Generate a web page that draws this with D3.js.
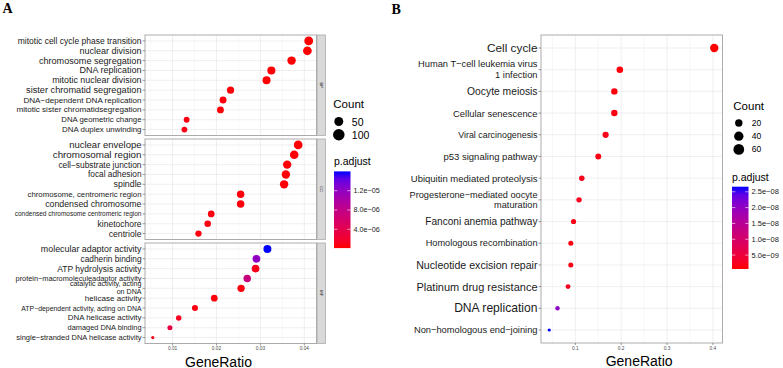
<!DOCTYPE html>
<html>
<head>
<meta charset="utf-8">
<script src="https://cdn.jsdelivr.net/npm/d3@7"></script>
<style>
  body { margin: 0; background: #fff; }
  svg { font-family: "Liberation Sans", Arial, sans-serif; }
</style>
</head>
<body>
<svg width="783" height="368"></svg>
<script>
// ---- data: panel A (GO, facets BP / CC / MF) ----
var bpTerms = ["mitotic cell cycle phase transition", "nuclear division", "chromosome segregation",
  "DNA replication", "mitotic nuclear division", "sister chromatid segregation",
  "DNA−dependent DNA replication", "mitotic sister chromatidsegregation", "DNA geometric change",
  "DNA duplex unwinding"];
var bpRatio = [0.0410, 0.0407, 0.0371, 0.0325, 0.0314, 0.0232, 0.0215, 0.0209, 0.0132, 0.0127];
var bpCount = [109, 108, 98, 86, 83, 61, 57, 55, 35, 34];
var bpPadj  = [1e-7, 1e-7, 1.5e-7, 2e-7, 2e-7, 3e-7, 4e-7, 3e-7, 6e-7, 7e-7];

var ccTerms = ["nuclear envelope", "chromosomal region", "cell−substrate junction", "focal adhesion",
  "spindle", "chromosome, centromeric region", "condensed chromosome",
  "condensed chromosome centromeric region", "kinetochore", "centriole"];
var ccRatio = [0.0386, 0.0377, 0.0361, 0.0358, 0.0354, 0.0255, 0.0255, 0.0188, 0.0180, 0.0159];
var ccCount = [104, 102, 97, 96, 95, 69, 69, 51, 49, 43];
var ccPadj  = [2e-7, 2e-7, 3e-7, 3e-7, 3e-7, 4e-7, 4e-7, 5e-7, 5e-7, 6e-7];

var mfTerms = ["molecular adaptor activity", "cadherin binding", "ATP hydrolysis activity",
  "protein−macromoleculeadaptor activity", "catalytic activity, acting\non DNA", "helicase activity",
  "ATP−dependent activity, acting on DNA", "DNA helicase activity", "damaged DNA binding",
  "single−stranded DNA helicase activity"];
var mfRatio = [0.0316, 0.0291, 0.0289, 0.0270, 0.0256, 0.0195, 0.0151, 0.0114, 0.0094, 0.0055];
var mfCount = [82, 76, 75, 70, 67, 51, 39, 30, 24, 14];
var mfPadj  = [1.6e-5, 1.2e-5, 8e-7, 7.3e-6, 5e-7, 4e-7, 6e-7, 1.2e-6, 3.4e-6, 9e-7];

var xTicksA = [0.01, 0.02, 0.03, 0.04];
var countBreaksA = [50, 100];
var padjTicksA = [4e-6, 8e-6, 1.2e-5];

// ---- data: panel B (KEGG) ----
var keggTerms = ["Cell cycle", "Human T−cell leukemia virus\n1 infection", "Oocyte meiosis",
  "Cellular senescence", "Viral carcinogenesis", "p53 signaling pathway",
  "Ubiquitin mediated proteolysis", "Progesterone−mediated oocyte\nmaturation",
  "Fanconi anemia pathway", "Homologous recombination", "Nucleotide excision repair",
  "Platinum drug resistance", "DNA replication", "Non−homologous end−joining"];
var keggRatio = [0.403, 0.197, 0.185, 0.185, 0.166, 0.150, 0.114, 0.108, 0.096, 0.090, 0.090, 0.084, 0.061, 0.043];
var keggCount = [63, 31, 29, 29, 26, 23, 18, 17, 15, 14, 14, 13, 10, 7];
var keggPadj  = [6e-10, 1e-9, 1.2e-9, 1.5e-9, 1.8e-9, 1.6e-9, 2e-9, 2.2e-9, 1.5e-9, 1.4e-9, 1.5e-9, 2.5e-9, 2.05e-8, 2.66e-8];

var xTicksB = [0.1, 0.2, 0.3, 0.4];
var countBreaksB = [20, 40, 60];
var padjTicksB = [5e-9, 1e-8, 1.5e-8, 2e-8, 2.5e-8];

// label font sizes (style only)
var bpFont = [8.5, 9, 9.1, 9, 8.9, 9.2, 8.1, 8.1, 7.8, 7.9];
var ccFont = [9.5, 9.8, 8.4, 8.3, 8.8, 7.8, 8.8, 6.5, 8.5, 8.7];
var mfFont = [8.9, 8.3, 8.5, 7.35, 7.1, 8.1, 6.9, 7.9, 7.4, 7.5];
var keggFont = [11.8, 9.3, 10.3, 9.4, 8.9, 9.5, 9.5, 9.2, 10.1, 9.2, 10.6, 11, 12.1, 9.3];

var svg = d3.select("svg");
svg.append("rect").attr("width", 783).attr("height", 368).attr("fill", "#fff");

function sciFmt(v) {
  var e = Math.floor(Math.log10(v) + 1e-9);
  var m = v / Math.pow(10, e);
  var s = e < 0 ? "−" : "+";
  return m.toFixed(1) + "e" + s + String(Math.abs(e)).padStart(2, "0");
}

function colorScale(vals) {
  return d3.scaleLinear().domain(d3.extent(vals)).range(["#FF0000", "#0000FF"]).interpolate(d3.interpolateLab);
}

function radiusScale(vals, rmin, rmax) {
  var n = d3.scaleLinear().domain(d3.extent(vals)).range([0, 1]);
  return function(c) { return rmin + (rmax - rmin) * Math.sqrt(Math.max(0, n(c))); };
}

// one dot panel
function drawPanel(terms, ratio, count, padj, fonts, x, xTicks, top, bottom, r, color) {
  var y = d3.scalePoint().domain(d3.range(terms.length)).range([top, bottom]).padding(0.6);
  var x0 = x.range()[0], x1 = x.range()[1];
  var g = svg.append("g");

  // minor vertical grid
  var minor = [];
  for (var i = 0; i < xTicks.length; i++) {
    var step = xTicks[1] - xTicks[0];
    minor.push(xTicks[i] - step / 2);
    if (i == xTicks.length - 1) minor.push(xTicks[i] + step / 2);
  }
  g.selectAll(".gmin").data(minor.filter(function(v){ return x(v) > x0 && x(v) < x1; }))
    .enter().append("line")
    .attr("x1", function(d){ return x(d); }).attr("x2", function(d){ return x(d); })
    .attr("y1", top).attr("y2", bottom)
    .attr("stroke", "#F3F3F3").attr("stroke-width", 0.6);
  g.selectAll(".gmaj").data(xTicks).enter().append("line")
    .attr("x1", function(d){ return x(d); }).attr("x2", function(d){ return x(d); })
    .attr("y1", top).attr("y2", bottom)
    .attr("stroke", "#EBEBEB").attr("stroke-width", 0.8);
  g.selectAll(".gh").data(d3.range(terms.length)).enter().append("line")
    .attr("x1", x0).attr("x2", x1)
    .attr("y1", function(d){ return y(d); }).attr("y2", function(d){ return y(d); })
    .attr("stroke", "#EBEBEB").attr("stroke-width", 0.8);

  // dots
  g.selectAll("circle").data(d3.range(terms.length)).enter().append("circle")
    .attr("cx", function(i){ return x(ratio[i]); })
    .attr("cy", function(i){ return y(i); })
    .attr("r", function(i){ return r(count[i]); })
    .attr("fill", function(i){ return color(padj[i]); });

  g.append("rect").attr("x", x0).attr("y", top).attr("width", x1 - x0).attr("height", bottom - top)
    .attr("fill", "none").attr("stroke", "#ABABAB").attr("stroke-width", 1);

  // y ticks + labels
  g.selectAll(".yt").data(d3.range(terms.length)).enter().append("line")
    .attr("x1", x0 - 2.5).attr("x2", x0)
    .attr("y1", function(d){ return y(d); }).attr("y2", function(d){ return y(d); })
    .attr("stroke", "#555").attr("stroke-width", 0.6);
  terms.forEach(function(t, i) {
    var lines = t.split("\n");
    var fs = fonts[i], lh = fs * 1.12;
    var txt = g.append("text").attr("text-anchor", "end")
      .attr("font-size", fs).attr("fill", "#1a1a1a");
    lines.forEach(function(l, k) {
      txt.append("tspan").attr("x", x0 - 3.5)
        .attr("y", y(i) - (lines.length - 1) * lh / 2 + k * lh)
        .attr("dominant-baseline", "central").text(l);
    });
  });
  return y;
}

function drawXAxis(x, ticks, bottom, fmt) {
  var g = svg.append("g");
  g.selectAll("line").data(ticks).enter().append("line")
    .attr("x1", function(d){ return x(d); }).attr("x2", function(d){ return x(d); })
    .attr("y1", bottom).attr("y2", bottom + 2)
    .attr("stroke", "#555").attr("stroke-width", 0.6);
  g.selectAll("text").data(ticks).enter().append("text")
    .attr("x", function(d){ return x(d); }).attr("y", bottom + 6.5)
    .attr("text-anchor", "middle").attr("font-size", 4.8).attr("fill", "#4D4D4D")
    .text(fmt);
}

function drawLegend(lx, countTop, breaks, rLeg, padjTop, barX, barTop, barBot, color, ticks, countFont, tickFont) {
  var g = svg.append("g");
  g.append("text").attr("x", lx).attr("y", countTop).attr("font-size", 11.5).text("Count");
  breaks.forEach(function(b, i) {
    var yy = countTop + 13.5 + i * 13.2;
    g.append("circle").attr("cx", lx + 5.5).attr("cy", yy).attr("r", rLeg(b)).attr("fill", "#000");
    g.append("text").attr("x", lx + 18.5).attr("y", yy).attr("dominant-baseline", "central")
      .attr("font-size", countFont).text(b);
  });
  g.append("text").attr("x", barX).attr("y", padjTop).attr("font-size", 10.5).text("p.adjust");

  var dom = color.domain();
  var grad = svg.append("defs").append("linearGradient")
    .attr("id", "grad" + lx).attr("x1", 0).attr("y1", 1).attr("x2", 0).attr("y2", 0);
  d3.range(0, 1.0001, 0.1).forEach(function(t) {
    grad.append("stop").attr("offset", t).attr("stop-color", color(dom[0] + t * (dom[1] - dom[0])));
  });
  g.append("rect").attr("x", barX).attr("y", barTop).attr("width", 16.5).attr("height", barBot - barTop)
    .attr("fill", "url(#grad" + lx + ")");
  var yb = d3.scaleLinear().domain(dom).range([barBot, barTop]);
  ticks.forEach(function(t) {
    g.append("line").attr("x1", barX).attr("x2", barX + 3.3).attr("y1", yb(t)).attr("y2", yb(t))
      .attr("stroke", "#fff").attr("stroke-width", 0.6);
    g.append("line").attr("x1", barX + 13.2).attr("x2", barX + 16.5).attr("y1", yb(t)).attr("y2", yb(t))
      .attr("stroke", "#fff").attr("stroke-width", 0.6);
    g.append("text").attr("x", barX + 19.5).attr("y", yb(t)).attr("dominant-baseline", "central")
      .attr("font-size", tickFont).attr("fill", "#1a1a1a").text(sciFmt(t));
  });
}

// ================= panel A =================
var allRatioA = bpRatio.concat(ccRatio, mfRatio);
var spanA = d3.max(allRatioA) - d3.min(allRatioA);
var xA = d3.scaleLinear()
  .domain([d3.min(allRatioA) - 0.05 * spanA, d3.max(allRatioA) + 0.05 * spanA])
  .range([145, 316.5]);
var colorA = colorScale(bpPadj.concat(ccPadj, mfPadj));
var rA = radiusScale(bpCount.concat(ccCount, mfCount), 1.6, 4.4);

var facets = [
  {name: "BP", terms: bpTerms, ratio: bpRatio, count: bpCount, padj: bpPadj, font: bpFont, top: 35, bottom: 135.5},
  {name: "CC", terms: ccTerms, ratio: ccRatio, count: ccCount, padj: ccPadj, font: ccFont, top: 139, bottom: 239.5},
  {name: "MF", terms: mfTerms, ratio: mfRatio, count: mfCount, padj: mfPadj, font: mfFont, top: 243, bottom: 343.5}
];
facets.forEach(function(f) {
  drawPanel(f.terms, f.ratio, f.count, f.padj, f.font, xA, xTicksA, f.top, f.bottom, rA, colorA);
  svg.append("rect").attr("x", 317).attr("y", f.top).attr("width", 8.5).attr("height", f.bottom - f.top)
    .attr("fill", "#D9D9D9").attr("stroke", "#ABABAB").attr("stroke-width", 0.8);
  var cy = (f.top + f.bottom) / 2;
  svg.append("text").attr("transform", "translate(321.2," + cy + ") rotate(90)")
    .attr("text-anchor", "middle").attr("dominant-baseline", "central")
    .attr("font-size", 4).attr("fill", "#1a1a1a").text(f.name);
});
drawXAxis(xA, xTicksA, 343.5, function(d){ return d3.format(".2f")(d); });
svg.append("text").attr("x", 185).attr("y", 366.5).attr("font-size", 14).text("GeneRatio");

drawLegend(333.3, 108, countBreaksA, function(c){ return rA(c) * 1.35; }, 164.5,
  334, 171.4, 248.1, colorA, padjTicksA, 10.5, 7.2);

// ================= panel B =================
var spanB = d3.max(keggRatio) - d3.min(keggRatio);
var xB = d3.scaleLinear()
  .domain([d3.min(keggRatio) - 0.05 * spanB, d3.max(keggRatio) + 0.05 * spanB])
  .range([541, 722.5]);
var colorB = colorScale(keggPadj);
var rB = radiusScale(keggCount, 1.6, 4.2);
drawPanel(keggTerms, keggRatio, keggCount, keggPadj, keggFont, xB, xTicksB, 35, 343, rB, colorB);
drawXAxis(xB, xTicksB, 343, function(d){ return d3.format(".1f")(d); });
svg.append("text").attr("x", 605.7).attr("y", 366).attr("font-size", 14).text("GeneRatio");

drawLegend(733.3, 109.5, countBreaksB, function(c){ return rB(c) * 1.3; }, 180.5,
  732, 186.7, 269, colorB, padjTicksB, 8.5, 7.5);

// panel letters
svg.append("text").attr("x", 2.5).attr("y", 13).attr("font-family", "Liberation Serif, serif")
  .attr("font-weight", "bold").attr("font-size", 14).text("A");
svg.append("text").attr("x", 391.5).attr("y", 13.5).attr("font-family", "Liberation Serif, serif")
  .attr("font-weight", "bold").attr("font-size", 14).text("B");
</script>
</body>
</html>
